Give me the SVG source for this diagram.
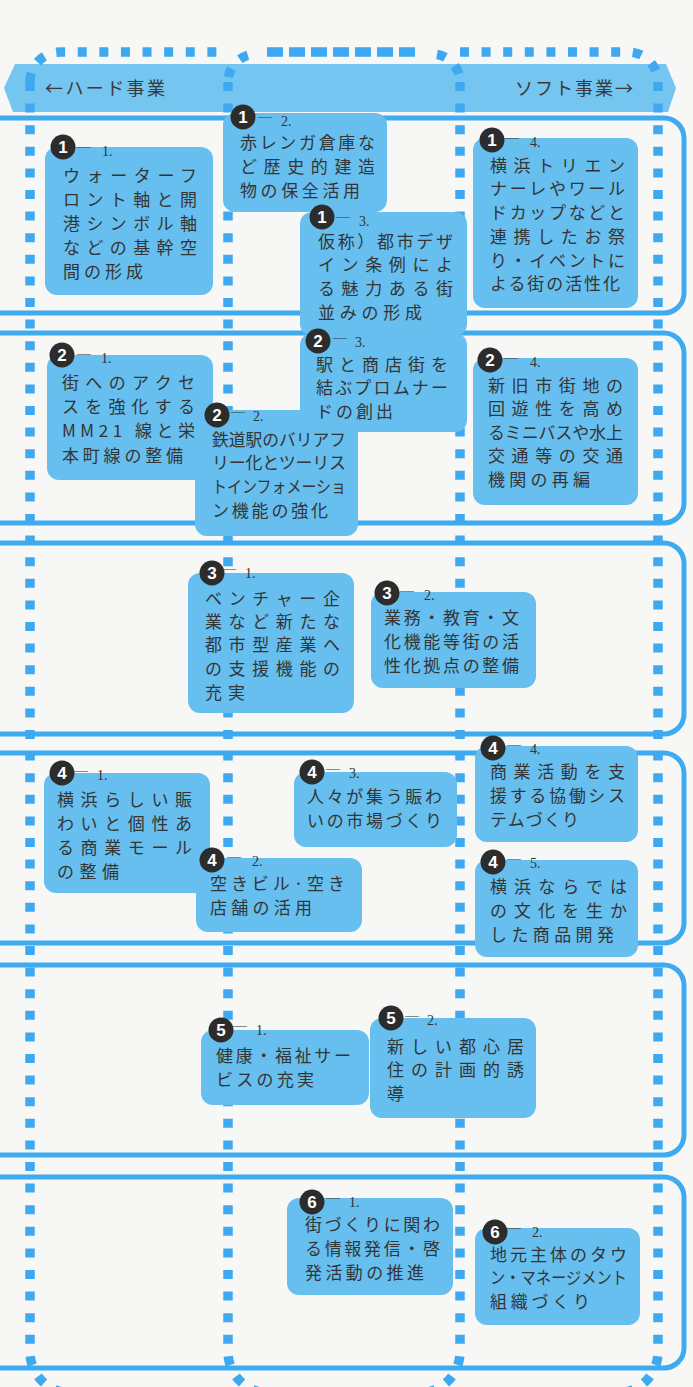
<svg xmlns="http://www.w3.org/2000/svg" width="693" height="1387" viewBox="0 0 693 1387">
<style>
.bg{fill:#f7f7f5}
.banner{fill:#74c5ef}
.bt{font-family:"Noto Sans CJK JP",sans-serif;font-size:18px;fill:#3a3a3a}
.row{fill:none;stroke:#3eaaf0;stroke-width:5}
.dot{fill:none;stroke:#3ea9f0;stroke-width:9.5;stroke-dasharray:9 12.6}
.arc{stroke-dashoffset:-5}
.dash{fill:none;stroke:#3ea9f0;stroke-width:9.5;stroke-dasharray:16 6;stroke-dashoffset:17}
.box{fill:#66bfef}
.t{font-family:"Noto Sans CJK JP",sans-serif;font-size:17px;fill:#353535}
.bd{fill:#2c2c2c}
.bn{font-family:"Liberation Sans",sans-serif;font-size:17px;font-weight:bold;fill:#fff;text-anchor:middle}
.num{font-family:"Liberation Serif",serif;font-size:14px;fill:#333}
</style>
<rect class="bg" x="0" y="0" width="693" height="1387"/>
<g id="banner">
<polygon class="banner" points="4,88 15,64 666,64 676,88 668,112 13,112"/>
<text class="bt" x="45" y="95" textLength="120" lengthAdjust="spacing">←ハード事業</text>
<text class="bt" x="515" y="95" textLength="118" lengthAdjust="spacing">ソフト事業→</text>
</g>
<g id="rows">
<path class="row" d="M-10 118 H664 A20 20 0 0 1 684 138 V293 A20 20 0 0 1 664 313 H-10"/>
<path class="row" d="M-10 333 H664 A20 20 0 0 1 684 353 V503 A20 20 0 0 1 664 523 H-10"/>
<path class="row" d="M-10 543 H664 A20 20 0 0 1 684 563 V714 A20 20 0 0 1 664 734 H-10"/>
<path class="row" d="M-10 753 H664 A20 20 0 0 1 684 773 V923 A20 20 0 0 1 664 943 H-10"/>
<path class="row" d="M-10 965 H664 A20 20 0 0 1 684 985 V1135 A20 20 0 0 1 664 1155 H-10"/>
<path class="row" d="M-10 1177 H664 A20 20 0 0 1 684 1197 V1348 A20 20 0 0 1 664 1368 H-10"/>
</g>
<g id="connectors">
<path class="dot" d="M30 82 V1352 A41 41 0 0 0 71 1393"/>
<path class="dot" d="M228 82 V1352 A41 41 0 0 0 269 1393"/>
<path class="dot" d="M460 82 V1352 A41 41 0 0 1 419 1393"/>
<path class="dot" d="M658 82 V1352 A41 41 0 0 1 617 1393"/>
<path class="dot" d="M30 82 A30 30 0 0 1 60 52 H224"/>
<path class="dot arc" d="M228 82 A28 28 0 0 1 256 54"/>
<path class="dash" d="M262 52 H418"/>
<path class="dot arc" d="M432 54 A28 28 0 0 1 460 82"/>
<path class="dot" d="M460 52 H628 A30 30 0 0 1 658 82"/>
</g>
<g id="n1-1">
<rect class="box" x="45" y="147" width="168" height="148" rx="12"/>
<circle class="bd" cx="63" cy="147" r="12.5"/><text class="bn" x="63" y="153">1</text>
<text class="num"><tspan x="77" y="151">—</tspan><tspan x="102" y="156">1.</tspan></text>
<text class="t" x="63" y="182" textLength="134" lengthAdjust="spacing">ウォーターフ</text>
<text class="t" x="63" y="206" textLength="134" lengthAdjust="spacing">ロント軸と開</text>
<text class="t" x="63" y="230" textLength="134" lengthAdjust="spacing">港シンボル軸</text>
<text class="t" x="63" y="254" textLength="134" lengthAdjust="spacing">などの基幹空</text>
<text class="t" x="63" y="278" textLength="80" lengthAdjust="spacing">間の形成</text>
</g>
<g id="n1-2">
<rect class="box" x="223" y="113" width="164" height="99" rx="12"/>
<circle class="bd" cx="243" cy="117" r="12.5"/><text class="bn" x="243" y="123">1</text>
<text class="num"><tspan x="258" y="121">—</tspan><tspan x="281" y="126">2.</tspan></text>
<text class="t" x="240" y="149" textLength="135" lengthAdjust="spacing">赤レンガ倉庫な</text>
<text class="t" x="240" y="173" textLength="135" lengthAdjust="spacing">ど歴史的建造</text>
<text class="t" x="240" y="197" textLength="120" lengthAdjust="spacing">物の保全活用</text>
</g>
<g id="n1-3">
<rect class="box" x="300" y="212" width="167" height="124" rx="12"/>
<circle class="bd" cx="322" cy="217" r="12.5"/><text class="bn" x="322" y="223">1</text>
<text class="num"><tspan x="336" y="221">—</tspan><tspan x="359" y="226">3.</tspan></text>
<text class="t" x="318" y="248" textLength="135" lengthAdjust="spacing">仮称）都市デザ</text>
<text class="t" x="318" y="271" textLength="135" lengthAdjust="spacing">イン条例によ</text>
<text class="t" x="318" y="295" textLength="135" lengthAdjust="spacing">る魅力ある街</text>
<text class="t" x="318" y="319" textLength="104" lengthAdjust="spacing">並みの形成</text>
</g>
<g id="n1-4">
<rect class="box" x="473" y="138" width="165" height="170" rx="12"/>
<circle class="bd" cx="492" cy="140" r="12.5"/><text class="bn" x="492" y="146">1</text>
<text class="num"><tspan x="505" y="142">—</tspan><tspan x="530" y="147">4.</tspan></text>
<text class="t" x="490" y="172" textLength="135" lengthAdjust="spacing">横浜トリエン</text>
<text class="t" x="490" y="195" textLength="135" lengthAdjust="spacing">ナーレやワール</text>
<text class="t" x="490" y="219" textLength="135" lengthAdjust="spacing">ドカップなどと</text>
<text class="t" x="490" y="243" textLength="135" lengthAdjust="spacing">連携したお祭</text>
<text class="t" x="490" y="267" textLength="135" lengthAdjust="spacing">り・イベントに</text>
<text class="t" x="490" y="290" textLength="130" lengthAdjust="spacing">よる街の活性化</text>
</g>
<g id="n2-1">
<rect class="box" x="47" y="355" width="166" height="125" rx="12"/>
<circle class="bd" cx="62" cy="355" r="12.5"/><text class="bn" x="62" y="361">2</text>
<text class="num"><tspan x="77" y="358">—</tspan><tspan x="101" y="363">1.</tspan></text>
<text class="t" x="62" y="389" textLength="133" lengthAdjust="spacing">街へのアクセ</text>
<text class="t" x="62" y="413" textLength="133" lengthAdjust="spacing">スを強化する</text>
<text class="t" x="62" y="437" textLength="133" lengthAdjust="spacing">MM21 線と栄</text>
<text class="t" x="62" y="462" textLength="121" lengthAdjust="spacing">本町線の整備</text>
</g>
<g id="n2-2">
<rect class="box" x="195" y="410" width="163" height="126" rx="12"/>
<circle class="bd" cx="217" cy="415" r="12.5"/><text class="bn" x="217" y="421">2</text>
<text class="num"><tspan x="231" y="416">—</tspan><tspan x="253" y="421">2.</tspan></text>
<text class="t" x="212" y="446" textLength="134" lengthAdjust="spacingAndGlyphs">鉄道駅のバリアフ</text>
<text class="t" x="212" y="469" textLength="134" lengthAdjust="spacing">リー化とツーリス</text>
<text class="t" x="212" y="493" textLength="134" lengthAdjust="spacingAndGlyphs">トインフォメーショ</text>
<text class="t" x="212" y="517" textLength="116" lengthAdjust="spacing">ン機能の強化</text>
</g>
<g id="n2-3">
<rect class="box" x="300" y="333" width="167" height="99" rx="12"/>
<circle class="bd" cx="318" cy="341" r="12.5"/><text class="bn" x="318" y="347">2</text>
<text class="num"><tspan x="333" y="342">—</tspan><tspan x="355" y="347">3.</tspan></text>
<text class="t" x="316" y="371" textLength="132" lengthAdjust="spacing">駅と商店街を</text>
<text class="t" x="316" y="394" textLength="132" lengthAdjust="spacing">結ぶプロムナー</text>
<text class="t" x="316" y="418" textLength="77" lengthAdjust="spacing">ドの創出</text>
</g>
<g id="n2-4">
<rect class="box" x="473" y="358" width="165" height="147" rx="12"/>
<circle class="bd" cx="490" cy="360" r="12.5"/><text class="bn" x="490" y="366">2</text>
<text class="num"><tspan x="504" y="362">—</tspan><tspan x="530" y="367">4.</tspan></text>
<text class="t" x="488" y="392" textLength="135" lengthAdjust="spacing">新旧市街地の</text>
<text class="t" x="488" y="415" textLength="135" lengthAdjust="spacing">回遊性を高め</text>
<text class="t" x="488" y="439" textLength="135" lengthAdjust="spacingAndGlyphs">るミニバスや水上</text>
<text class="t" x="488" y="462" textLength="135" lengthAdjust="spacing">交通等の交通</text>
<text class="t" x="488" y="486" textLength="102" lengthAdjust="spacing">機関の再編</text>
</g>
<g id="n3-1">
<rect class="box" x="188" y="573" width="166" height="140" rx="12"/>
<circle class="bd" cx="212" cy="573" r="12.5"/><text class="bn" x="212" y="579">3</text>
<text class="num"><tspan x="222" y="573">—</tspan><tspan x="245" y="578">1.</tspan></text>
<text class="t" x="205" y="605" textLength="135" lengthAdjust="spacing">ベンチャー企</text>
<text class="t" x="205" y="628" textLength="135" lengthAdjust="spacing">業など新たな</text>
<text class="t" x="205" y="651" textLength="135" lengthAdjust="spacing">都市型産業へ</text>
<text class="t" x="205" y="675" textLength="135" lengthAdjust="spacing">の支援機能の</text>
<text class="t" x="205" y="699" textLength="40" lengthAdjust="spacing">充実</text>
</g>
<g id="n3-2">
<rect class="box" x="371" y="592" width="165" height="96" rx="12"/>
<circle class="bd" cx="387" cy="593" r="12.5"/><text class="bn" x="387" y="599">3</text>
<text class="num"><tspan x="400" y="595">—</tspan><tspan x="424" y="600">2.</tspan></text>
<text class="t" x="384" y="624" textLength="135" lengthAdjust="spacing">業務・教育・文</text>
<text class="t" x="384" y="648" textLength="135" lengthAdjust="spacing">化機能等街の活</text>
<text class="t" x="384" y="672" textLength="135" lengthAdjust="spacing">性化拠点の整備</text>
</g>
<g id="n4-1">
<rect class="box" x="44" y="773" width="166" height="120" rx="12"/>
<circle class="bd" cx="62" cy="773" r="12.5"/><text class="bn" x="62" y="779">4</text>
<text class="num"><tspan x="74" y="775">—</tspan><tspan x="97" y="780">1.</tspan></text>
<text class="t" x="57" y="806" textLength="135" lengthAdjust="spacing">横浜らしい賑</text>
<text class="t" x="57" y="830" textLength="135" lengthAdjust="spacing">わいと個性あ</text>
<text class="t" x="57" y="854" textLength="135" lengthAdjust="spacing">る商業モール</text>
<text class="t" x="57" y="878" textLength="62" lengthAdjust="spacing">の整備</text>
</g>
<g id="n4-2">
<rect class="box" x="196" y="858" width="166" height="74" rx="12"/>
<circle class="bd" cx="212" cy="860" r="12.5"/><text class="bn" x="212" y="866">4</text>
<text class="num"><tspan x="227" y="861">—</tspan><tspan x="252" y="866">2.</tspan></text>
<text class="t" x="210" y="890" textLength="135" lengthAdjust="spacing">空きビル·空き</text>
<text class="t" x="210" y="914" textLength="102" lengthAdjust="spacing">店舗の活用</text>
</g>
<g id="n4-3">
<rect class="box" x="294" y="772" width="163" height="75" rx="12"/>
<circle class="bd" cx="312" cy="772" r="12.5"/><text class="bn" x="312" y="778">4</text>
<text class="num"><tspan x="326" y="773">—</tspan><tspan x="349" y="778">3.</tspan></text>
<text class="t" x="307" y="803" textLength="135" lengthAdjust="spacing">人々が集う賑わ</text>
<text class="t" x="307" y="827" textLength="135" lengthAdjust="spacing">いの市場づくり</text>
</g>
<g id="n4-4">
<rect class="box" x="475" y="746" width="163" height="96" rx="12"/>
<circle class="bd" cx="493" cy="748" r="12.5"/><text class="bn" x="493" y="754">4</text>
<text class="num"><tspan x="507" y="749">—</tspan><tspan x="530" y="754">4.</tspan></text>
<text class="t" x="490" y="778" textLength="135" lengthAdjust="spacing">商業活動を支</text>
<text class="t" x="490" y="802" textLength="135" lengthAdjust="spacing">援する協働シス</text>
<text class="t" x="490" y="826" textLength="89" lengthAdjust="spacing">テムづくり</text>
</g>
<g id="n4-5">
<rect class="box" x="475" y="860" width="163" height="97" rx="12"/>
<circle class="bd" cx="493" cy="862" r="12.5"/><text class="bn" x="493" y="868">4</text>
<text class="num"><tspan x="507" y="863">—</tspan><tspan x="530" y="868">5.</tspan></text>
<text class="t" x="490" y="893" textLength="137" lengthAdjust="spacing">横浜ならでは</text>
<text class="t" x="490" y="917" textLength="137" lengthAdjust="spacing">の文化を生か</text>
<text class="t" x="490" y="941" textLength="124" lengthAdjust="spacing">した商品開発</text>
</g>
<g id="n5-1">
<rect class="box" x="201" y="1030" width="168" height="75" rx="12"/>
<circle class="bd" cx="221" cy="1030" r="12.5"/><text class="bn" x="221" y="1036">5</text>
<text class="num"><tspan x="233" y="1030">—</tspan><tspan x="256" y="1035">1.</tspan></text>
<text class="t" x="216" y="1062" textLength="135" lengthAdjust="spacing">健康・福祉サー</text>
<text class="t" x="216" y="1086" textLength="98" lengthAdjust="spacing">ビスの充実</text>
</g>
<g id="n5-2">
<rect class="box" x="370" y="1018" width="166" height="100" rx="12"/>
<circle class="bd" cx="391" cy="1018" r="12.5"/><text class="bn" x="391" y="1024">5</text>
<text class="num"><tspan x="405" y="1020">—</tspan><tspan x="427" y="1025">2.</tspan></text>
<text class="t" x="387" y="1053" textLength="137" lengthAdjust="spacing">新しい都心居</text>
<text class="t" x="387" y="1076" textLength="137" lengthAdjust="spacing">住の計画的誘</text>
<text class="t" x="387" y="1100">導</text>
</g>
<g id="n6-1">
<rect class="box" x="287" y="1198" width="166" height="97" rx="12"/>
<circle class="bd" cx="312" cy="1202" r="12.5"/><text class="bn" x="312" y="1208">6</text>
<text class="num"><tspan x="326" y="1202">—</tspan><tspan x="349" y="1207">1.</tspan></text>
<text class="t" x="305" y="1231" textLength="135" lengthAdjust="spacing">街づくりに関わ</text>
<text class="t" x="305" y="1255" textLength="135" lengthAdjust="spacing">る情報発信・啓</text>
<text class="t" x="305" y="1279" textLength="119" lengthAdjust="spacing">発活動の推進</text>
</g>
<g id="n6-2">
<rect class="box" x="475" y="1228" width="165" height="97" rx="12"/>
<circle class="bd" cx="495" cy="1232" r="12.5"/><text class="bn" x="495" y="1238">6</text>
<text class="num"><tspan x="507" y="1232">—</tspan><tspan x="532" y="1237">2.</tspan></text>
<text class="t" x="490" y="1261" textLength="137" lengthAdjust="spacing">地元主体のタウ</text>
<text class="t" x="490" y="1284" textLength="137" lengthAdjust="spacingAndGlyphs">ン・マネージメント</text>
<text class="t" x="490" y="1308" textLength="100" lengthAdjust="spacing">組織づくり</text>
</g>
</svg>
